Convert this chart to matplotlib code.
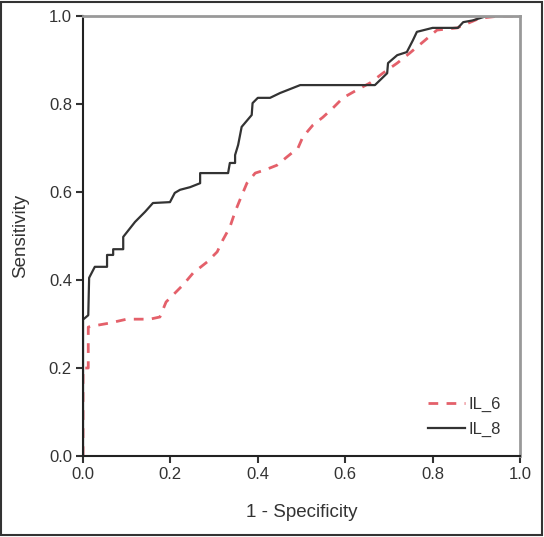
import matplotlib
matplotlib.use("Agg")
import matplotlib.pyplot as plt
from matplotlib.patches import Rectangle

# ROC curves
il6_fpr = [0.0, 0.0, 0.012, 0.012, 0.02, 0.06, 0.1, 0.153, 0.176, 0.19, 0.229, 0.252,
           0.284, 0.307, 0.32, 0.336, 0.348, 0.359, 0.375, 0.394, 0.416, 0.444, 0.467,
           0.492, 0.503, 0.526, 0.549, 0.572, 0.595, 0.627, 0.657, 0.686, 0.719, 0.748,
           0.778, 0.81, 0.856, 0.908, 0.954, 1.0]
il6_tpr = [0.0, 0.2, 0.2, 0.293, 0.295, 0.302, 0.311, 0.311, 0.316, 0.35, 0.389, 0.416,
           0.441, 0.464, 0.491, 0.52, 0.555, 0.582, 0.62, 0.643, 0.65, 0.661, 0.68,
           0.70, 0.725, 0.752, 0.77, 0.791, 0.814, 0.832, 0.848, 0.87, 0.893, 0.916,
           0.941, 0.968, 0.973, 0.995, 1.0, 1.0]

il8_fpr = [0.0, 0.0, 0.012, 0.014, 0.027, 0.055, 0.055, 0.069, 0.069, 0.092, 0.092,
           0.119, 0.13, 0.142, 0.16, 0.199, 0.21, 0.222, 0.245, 0.268, 0.268, 0.332,
           0.336, 0.348, 0.348, 0.355, 0.363, 0.386, 0.388, 0.40, 0.428, 0.451, 0.497,
           0.668, 0.696, 0.698, 0.719, 0.741, 0.755, 0.764, 0.80, 0.858, 0.87, 0.892,
           0.924, 1.0]
il8_tpr = [0.0, 0.31, 0.32, 0.405, 0.43, 0.43, 0.457, 0.457, 0.47, 0.47, 0.498,
           0.532, 0.543, 0.555, 0.575, 0.577, 0.598, 0.605, 0.611, 0.62, 0.643, 0.643,
           0.666, 0.666, 0.684, 0.707, 0.748, 0.775, 0.802, 0.814, 0.814, 0.825, 0.843,
           0.843, 0.87, 0.893, 0.911, 0.918, 0.945, 0.964, 0.973, 0.973, 0.986, 0.99,
           1.0, 1.0]

ticks = [0.0, 0.2, 0.4, 0.6, 0.8, 1.0]

plt.rcParams['font.family'] = ['Liberation Sans', 'DejaVu Sans']
text_col = '#333333'

fig = plt.figure(figsize=(5.44, 5.37), dpi=100)
ax = fig.add_axes([0.1526, 0.1508, 0.8033, 0.8194])

ax.plot(il6_fpr, il6_tpr, color='#e4606a', lw=2.0, dashes=(3.5, 3), label='IL_6')
ax.plot(il8_fpr, il8_tpr, color='#333333', lw=1.6, label='IL_8')

ax.set_xlim(0, 1)
ax.set_ylim(0, 1)
ax.set_xticks(ticks)
ax.set_yticks(ticks)
ax.set_xticklabels([f"{t:.1f}" for t in ticks])
ax.set_yticklabels([f"{t:.1f}" for t in ticks])
ax.tick_params(direction='out', length=5, width=1.5, colors=text_col, labelsize=12, pad=3)

for side in ['left', 'bottom']:
    ax.spines[side].set_color('#222222')
    ax.spines[side].set_linewidth(1.5)
for side in ['top', 'right']:
    ax.spines[side].set_color('#999999')
    ax.spines[side].set_linewidth(2.0)

ax.set_xlabel('1 - Specificity', fontsize=13.5, color=text_col, labelpad=16)
ax.set_ylabel('Sensitivity', fontsize=13.5, color=text_col, labelpad=14)

leg = ax.legend(loc='lower right', bbox_to_anchor=(0.99, 0.01), frameon=False,
                fontsize=12, handlelength=2.2, handletextpad=0.2, labelspacing=0.55)
for t in leg.get_texts():
    t.set_color(text_col)

# outer frame around the whole picture
fig.patches.append(Rectangle((0.002, 0.003), 0.995, 0.994, transform=fig.transFigure,
                             fill=False, edgecolor='#333333', lw=1.5))

fig.savefig('out.png', dpi=100)
